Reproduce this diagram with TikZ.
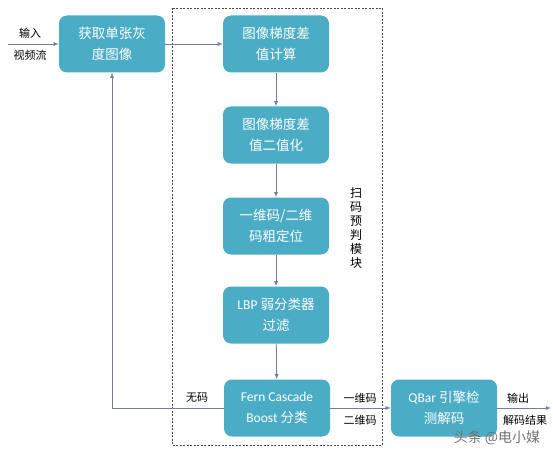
\documentclass[tikz,border=0pt]{standalone}
\usepackage{fontspec}
\setmainfont{Carlito}
\newfontfamily\cjk{Noto Sans CJK SC}
\newfontfamily\lat{Carlito}
\usetikzlibrary{positioning,shapes,arrows}
\definecolor{boxblue}{RGB}{75,172,198}
\definecolor{linegray}{RGB}{112,128,156}
\definecolor{framegray}{RGB}{70,70,70}

\begin{document}
\begin{tikzpicture}
    [x=1pt,y=-1pt,
     box/.style={fill=boxblue, rounded corners=8pt, minimum width=106pt, minimum height=57pt,
                 text=white, align=center, font=\fontsize{13.5}{21}\selectfont\cjk},
     lbl/.style={inner sep=1pt, font=\fontsize{11}{13}\selectfont\cjk},
     flow/.style={draw=linegray, line width=0.8pt, -latex}]
  \useasboundingbox (0,0) rectangle (553,457);
  \draw[framegray, line width=0.8pt, dash pattern=on 2pt off 1.5pt] (172,8) rectangle (382,445);

  \node[box] (gray) at (112,44) {获取单张灰\\度图像};
  \node[box] (grad) at (276,44) {图像梯度差\\值计算};
  \node[box] (bin)  at (276,135) {图像梯度差\\值二值化};
  \node[box] (loc)  at (276,226) {一维码/二维\\码粗定位};
  \node[box] (lbp)  at (276,315) {{\lat LBP} 弱分类器\\过滤};
  \node[box] (fern) at (277,408) {{\lat Fern Cascade}\\{\lat Boost} 分类};
  \node[box] (qbar) at (444,408) {{\lat QBar} 引擎检\\测解码};

  \coordinate (in) at (8,44);
  \coordinate (out) at (551,408);

  \node[lbl] (inA) at (30,33) {输入};
  \node[lbl] (inB) at (30,55) {视频流};
  \node[lbl] (none) at (197,398) {无码};
  \node[lbl] (oneD) at (360,398) {一维码};
  \node[lbl] (twoD) at (360,420) {二维码};
  \node[lbl] (outA) at (518,398) {输出};
  \node[lbl] (outB) at (525,420) {解码结果};
  \node[lbl, align=center, font=\fontsize{12}{14}\selectfont\cjk] (scan) at (356,228)
    {扫\\码\\预\\判\\模\\块};
  \node[lbl, text=black!55, font=\fontsize{14}{16}\selectfont\cjk] (mark) at (497,438) {头条 @电小媒};

  \draw[flow] (in) -- (gray);
  \foreach \from/\to in {gray/grad, grad/bin, bin/loc, loc/lbp, lbp/fern, fern/qbar}
    \draw[flow] (\from) -- (\to);
  \draw[flow] (qbar) -- (out);
  \draw[flow] (fern.west) -| (gray.south);
\end{tikzpicture}
\end{document}
